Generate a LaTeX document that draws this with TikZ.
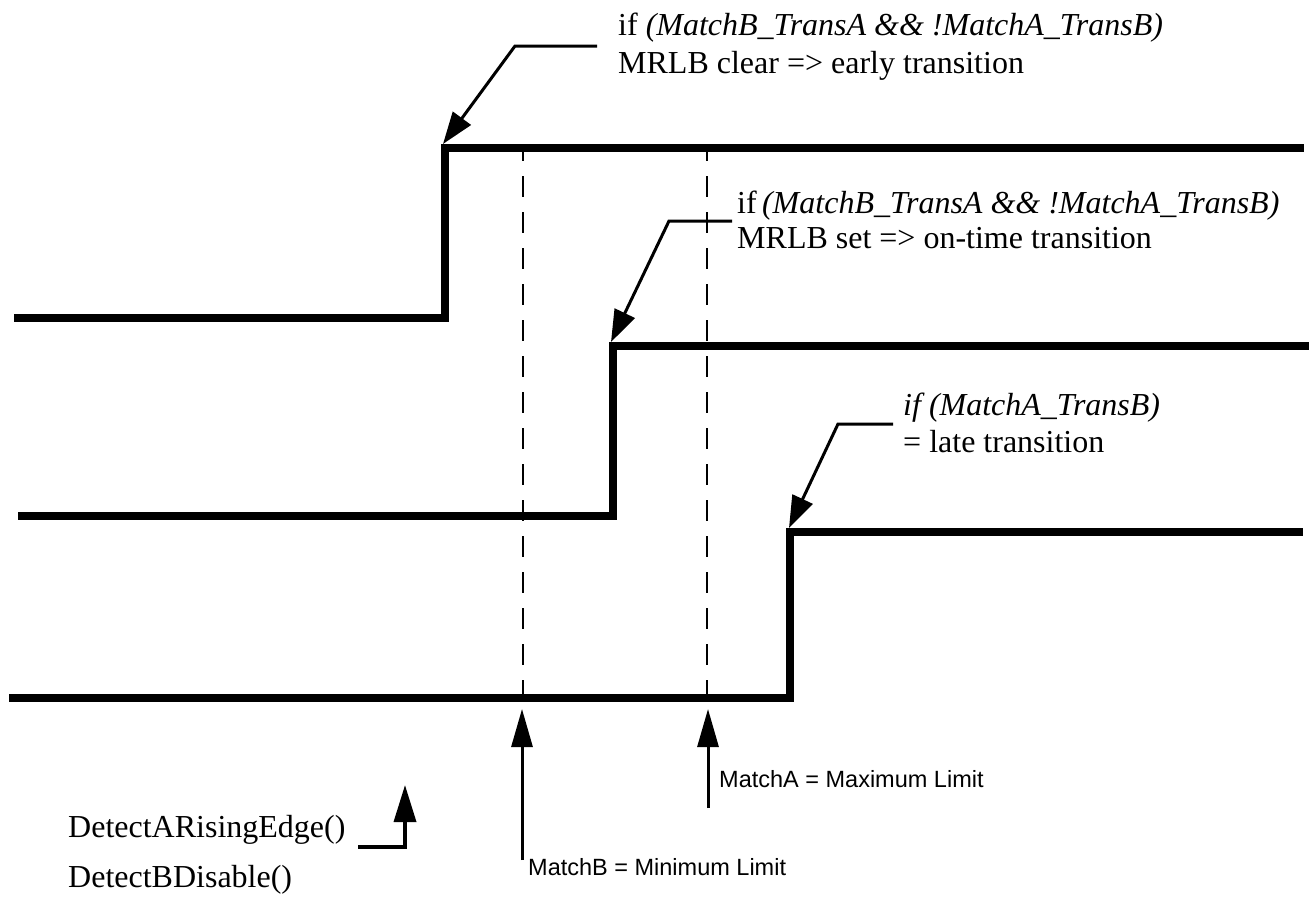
\documentclass[tikz,border=0pt]{standalone}
\usepackage{fontspec}
\setmainfont{Liberation Serif}
\newfontfamily\labelsans{Liberation Sans}
\usetikzlibrary{arrows.meta}
\begin{document}
\begin{tikzpicture}[x=1pt,y=-1pt,
  signal/.style={line width=8pt, line join=miter},
  guide/.style={line width=1.8pt, dash pattern=on 21pt off 15pt, dash phase=10pt},
  callout/.style={line width=3pt, -{Triangle[length=32pt,width=22pt]}},
  marker/.style={line width=3pt, -{Triangle[length=38pt,width=21pt]}},
  serif/.style={font=\fontsize{32}{37}\selectfont, inner sep=0pt, anchor=base west},
  sans/.style={font=\labelsans\fontsize{23.5}{28}\selectfont, inner sep=0pt, anchor=base west}]
\useasboundingbox (0,0) rectangle (1309,897);

% guide lines (dashed)
\coordinate (g1t) at (523,150);
\coordinate (g1b) at (523,696);
\coordinate (g2t) at (707,150);
\coordinate (g2b) at (707,696);
\draw[guide] (g1t) -- (g1b);
\draw[guide] (g2t) -- (g2b);

% signals
\coordinate (s1a) at (14,318);
\coordinate (s1b) at (445,318);
\coordinate (s1c) at (445,148);
\coordinate (s1d) at (1304,148);
\draw[signal] (s1a) -- (s1b) -- (s1c) -- (s1d);

\coordinate (s2a) at (18,516);
\coordinate (s2b) at (613,516);
\coordinate (s2c) at (613,346);
\coordinate (s2d) at (1309,346);
\draw[signal] (s2a) -- (s2b) -- (s2c) -- (s2d);

\coordinate (s3a) at (9,698);
\coordinate (s3b) at (790,698);
\coordinate (s3c) at (790,532);
\coordinate (s3d) at (1303,532);
\draw[signal] (s3a) -- (s3b) -- (s3c) -- (s3d);

% callout 1
\node[serif] (t1a) at (618,35) {if \textit{(MatchB\_TransA \&\& !MatchA\_TransB)}};
\node[serif] (t1b) at (618,73) {MRLB clear => early transition};
\coordinate (k1a) at (597,46);
\coordinate (k1b) at (515,46);
\coordinate (tip1) at (443,144);
\draw[callout] (k1a) -- (k1b) -- (tip1);

% callout 2
\node[serif] (t2a) at (737,213) {if\,\textit{(MatchB\_TransA \&\& !MatchA\_TransB)}};
\node[serif] (t2b) at (737,248) {MRLB set => on-time transition};
\coordinate (k2a) at (732,221);
\coordinate (k2b) at (669,221);
\coordinate (tip2) at (611,342);
\draw[callout] (k2a) -- (k2b) -- (tip2);

% callout 3
\node[serif] (t3a) at (903,415) {\textit{if (MatchA\_TransB)}};
\node[serif] (t3b) at (903,452) {= late transition};
\coordinate (k3a) at (893,424);
\coordinate (k3b) at (838,424);
\coordinate (tip3) at (789,528);
\draw[callout] (k3a) -- (k3b) -- (tip3);

% limit markers
\coordinate (mBfoot) at (522,860);
\coordinate (mBtip) at (522,709);
\coordinate (mAfoot) at (708,808);
\coordinate (mAtip) at (708,709);
\draw[marker] (mBfoot) -- (mBtip);
\draw[marker] (mAfoot) -- (mAtip);
\node[sans] (lblB) at (528,875) {MatchB = Minimum Limit};
\node[sans] (lblA) at (719,787) {MatchA = Maximum Limit};

% legend
\node[serif] (dA) at (68,837) {DetectARisingEdge()};
\node[serif] (dB) at (68,887) {DetectBDisable()};
\coordinate (e1) at (358,847);
\coordinate (e2) at (405,847);
\coordinate (e3) at (405,785);
\draw[line width=3.5pt, -{Triangle[length=37pt,width=22pt]}] (e1) -- (e2) -- (e3);
\end{tikzpicture}
\end{document}
